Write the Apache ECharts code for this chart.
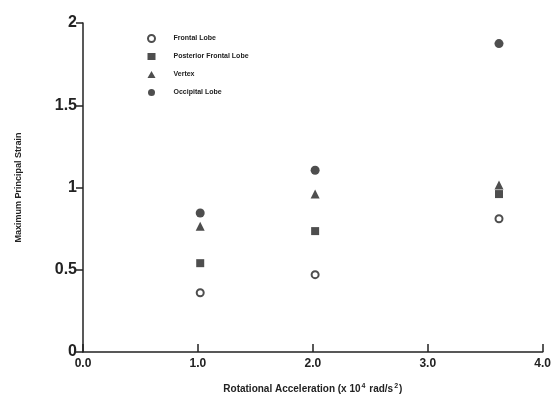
<!DOCTYPE html>
<html>
<head>
<meta charset="utf-8">
<script src="https://cdn.jsdelivr.net/npm/echarts@6/dist/echarts.min.js"></script>
<style>
  html, body { margin: 0; padding: 0; background: #fff; }
  #main { width: 554px; height: 402px; }
</style>
</head>
<body>
<div id="main"></div>
<script>
// rotational acceleration (x 10^4 rad/s^2) for each test
var accel = [1.02, 2.02, 3.62];
// maximum principal strain per region
var frontal = [0.36, 0.47, 0.81];
var posteriorFrontal = [0.54, 0.735, 0.96];
var vertex = [0.765, 0.96, 1.015];
var occipital = [0.845, 1.105, 1.875];
var seriesNames = ['Frontal Lobe', 'Posterior Frontal Lobe', 'Vertex', 'Occipital Lobe'];

var ink = '#222222';
var font = 'Liberation Sans';

function pairs(ys) {
    var out = [];
    for (var i = 0; i < accel.length; i++) {
        out.push([accel[i], ys[i]]);
    }
    return out;
}

var chart = echarts.init(document.getElementById('main'));
var option = {
    backgroundColor: '#ffffff',
    animation: false,
    grid: {
        left: 83,
        right: 8,
        top: 23,
        bottom: 50
    },
    legend: {
        orient: 'vertical',
        left: 147,
        top: 33,
        padding: 0,
        itemGap: 7,
        itemWidth: 8,
        itemHeight: 7,
        textStyle: { fontFamily: font, fontWeight: 'bold', fontSize: 7, lineHeight: 7, color: ink, padding: [0, 0, 4, 13] },
        data: seriesNames
    },
    xAxis: {
        type: 'value',
        min: 0,
        max: 4,
        interval: 1,
        name: '{a|Rotational Acceleration (x 10}{s|4}{a| rad/s}{s|2}{a|)}',
        nameLocation: 'middle',
        nameGap: 31,
        nameTextStyle: {
            rich: {
                a: { fontFamily: font, fontWeight: 'bold', fontSize: 10, color: ink },
                s: { fontFamily: font, fontWeight: 'bold', fontSize: 7, color: ink, verticalAlign: 'top', padding: [0, 1, 6, 1] }
            }
        },
        axisLine: { lineStyle: { color: ink, width: 1.5 } },
        axisTick: { inside: true, length: 8, lineStyle: { color: ink, width: 1.5 } },
        axisLabel: {
            formatter: function (v) { return v.toFixed(1); },
            fontFamily: font, fontWeight: 'bold', fontSize: 12, color: ink, margin: 6
        },
        splitLine: { show: false }
    },
    yAxis: {
        type: 'value',
        min: 0,
        max: 2,
        interval: 0.5,
        name: 'Maximum Principal Strain',
        nameLocation: 'middle',
        nameGap: 60,
        nameTextStyle: { fontFamily: font, fontWeight: 'bold', fontSize: 9, color: ink },
        axisLine: { show: true, lineStyle: { color: ink, width: 1.5 } },
        axisTick: { show: true, length: 7, lineStyle: { color: ink, width: 1.5 } },
        axisLabel: { fontFamily: font, fontWeight: 'bold', fontSize: 16, color: ink, margin: 6 },
        splitLine: { show: false }
    },
    series: [{
        name: seriesNames[0],
        type: 'scatter',
        symbol: 'circle',
        symbolSize: 7,
        itemStyle: { color: '#ffffff', borderColor: ink, borderWidth: 2 },
        data: pairs(frontal)
    }, {
        name: seriesNames[1],
        type: 'scatter',
        symbol: 'rect',
        symbolSize: 8,
        itemStyle: { color: ink },
        data: pairs(posteriorFrontal)
    }, {
        name: seriesNames[2],
        type: 'scatter',
        symbol: 'triangle',
        symbolSize: 9,
        itemStyle: { color: ink },
        data: pairs(vertex)
    }, {
        name: seriesNames[3],
        type: 'scatter',
        symbol: 'circle',
        symbolSize: 9,
        itemStyle: { color: ink },
        data: pairs(occipital)
    }]
};
chart.setOption(option);
</script>
</body>
</html>
